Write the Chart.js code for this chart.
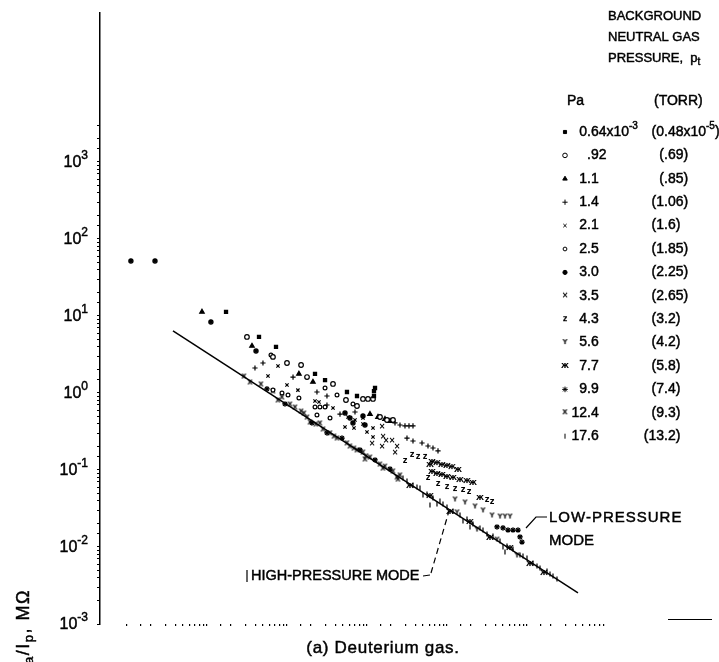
<!DOCTYPE html>
<html>
<head>
<meta charset="utf-8">
<script src="https://cdn.jsdelivr.net/npm/chart.js@4.4.0/dist/chart.umd.min.js"></script>
<style>
  html, body { margin: 0; padding: 0; background: #fff; }
  #wrap { width: 719px; height: 662px; }
</style>
</head>
<body>
<div id="wrap"><canvas id="myChart"></canvas></div>
<script>
// Background neutral gas pressure for every series
const pressurePa = ["0.64x10^-3", ".92", "1.1", "1.4", "2.1", "2.5", "3.0", "3.5", "4.3", "5.6", "7.7", "9.9", "12.4", "17.6"];
const pressureTorr = ["(0.48x10^-5)", "(.69)", "(.85)", "(1.06)", "(1.6)", "(1.85)", "(2.25)", "(2.65)", "(3.2)", "(4.2)", "(5.8)", "(7.4)", "(9.3)", "(13.2)"];

// y axis decades that carry a label (10^k, MOhm)
const yDecades = [-3, -2, -1, 0, 1, 2, 3];

// measured points [x, Va/Ip in MOhm], one array per pressure
const p064 = [[17.3, 11.3], [44.7, 5.34], [72.9, 3.96], [224, 1.77], [299, 1.47], [562, 1.03], [750, 0.914], [1223, 1.06], [1223, 0.914], [1260, 1.16]];
const p092 = [[31.6, 5.34], [66.8, 2.94], [100, 2.45], [150, 2.31], [178, 1.61], [376, 1.31], [546, 0.811], [750, 0.678], [891, 0.836], [1029, 0.836], [1189, 0.836], [1454, 0.488], [1778, 0.446], [2113, 0.446]];
const p11 = [[8.66, 11.3], [36.5, 4.08], [141, 1.77], [211, 1.39], [1090, 0.533], [1372, 0.488], [1679, 0.459], [1939, 0.433]];
const p14 = [[39.8, 2.11], [50.1, 2.45], [119, 1.61], [237, 1.03], [316, 0.914], [316, 0.698], [460, 0.533], [708, 0.566], [2239, 0.408], [2585, 0.384], [2985, 0.373], [3350, 0.373], [3758, 0.373], [3162, 0.26], [3758, 0.238], [4870, 0.224], [5788, 0.205], [6683, 0.193], [7720, 0.177]];
const p21 = [[57.9, 1.66], [77.2, 2.24], [100, 1.27], [137, 1.09], [224, 0.787], [251, 0.764], [376, 0.638], [579, 0.488], [708, 0.446], [891, 0.473], [531, 0.362], [688, 0.351], [891, 0.396], [1189, 0.351], [1000, 0.312], [1189, 0.268]];
const p25 = [[63.1, 3.11], [66.8, 1.09], [86.6, 1.0], [103, 0.942], [141, 0.861], [299, 1.16], [422, 0.942], [668, 0.72], [224, 0.658], [258, 0.658], [299, 0.658], [237, 0.518], [345, 0.473]];
const p30 = [[1.12, 51.8], [2.24, 51.8], [11.2, 8.36], [41.0, 3.51], [531, 0.55], [613, 0.473], [668, 0.408], [891, 0.503], [944, 0.384]];
const p35 = [[1540, 0.362], [2054, 0.238], [2371, 0.199], [1155, 0.218], [1540, 0.199], [2239, 0.166], [1585, 0.268], [1728, 0.238]];
const p43 = [[2985, 0.131], [3652, 0.157], [4340, 0.148], [5309, 0.148], [5788, 0.0787], [7720, 0.0658], [10000, 0.0601], [12589, 0.0566], [15850, 0.055], [18836, 0.0518], [31623, 0.0408], [36517, 0.0384]];
const p56 = [[12589, 0.0408], [16788, 0.0373], [22387, 0.0331], [28184, 0.0294], [36517, 0.0253], [45973, 0.0245], [53088, 0.0245], [61310, 0.0245],
  [13335, 0.0277], [23714, 0.0166], [42170, 0.0123], [74989, 0.00764]];
const p77 = [[6494, 0.127], [7499, 0.123], [8660, 0.116], [10000, 0.113], [11548, 0.109], [13725, 0.1], [6130, 0.116], [6494, 0.0942], [7499, 0.0887], [8660, 0.0861], [10000, 0.0811], [11885, 0.0787], [14540, 0.0741], [17783, 0.0719], [21135, 0.0678], [25850, 0.0433],
  [3447, 0.0619], [6130, 0.0459], [10900, 0.0285], [19390, 0.0211], [34470, 0.0131], [61310, 0.0097], [109000, 0.00601], [163100, 0.00459]];
const p99 = [[42170, 0.0182], [50119, 0.0177], [57876, 0.0166], [66834, 0.0166], [77179, 0.0166], [86596, 0.0116], [81752, 0.0135],
  [56.2, 1.13], [94.4, 0.72], [205, 0.408], [316, 0.303], [487, 0.26], [818, 0.182], [1260, 0.135], [1939, 0.103]];
const p124 = [[29.0, 1.61], [47.3, 1.27], [66.8, 1.03], [86.6, 0.861], [109, 0.698], [126, 0.638], [150, 0.566], [178, 0.473], [230, 0.384], [282, 0.331], [345, 0.294], [422, 0.253], [562, 0.218], [688, 0.187], [750, 0.177], [891, 0.166], [1090, 0.143], [1454, 0.116], [1679, 0.109], [2113, 0.0942], [2585, 0.0836], [194, 0.408], [944, 0.135], [2441, 0.0741],
  [34.5, 1.35], [77.2, 0.787], [163, 0.533], [258, 0.396], [387, 0.268], [613, 0.199], [972, 0.148], [1585, 0.103], [2371, 0.0787]];
const p176 = [[3162, 0.0719], [3758, 0.0638], [4597, 0.0584], [5623, 0.0488], [6683, 0.0433], [8171, 0.0396], [10000, 0.0331], [11885, 0.0294], [14540, 0.0261], [17783, 0.0231], [21135, 0.0199], [25850, 0.0177], [31623, 0.0148], [37584, 0.0139], [45973, 0.012], [56234, 0.0103], [66834, 0.00942], [81752, 0.00787], [100000, 0.0072], [118850, 0.0062], [145400, 0.00533], [177828, 0.00488], [211349, 0.0042], [237100, 0.00384], [6130, 0.0351], [19390, 0.0182], [53088, 0.00861],
  [2818, 0.0787], [4217, 0.0601], [5012, 0.0473], [7499, 0.0362], [8913, 0.0362], [15850, 0.0218], [28184, 0.0166], [50119, 0.01], [89125, 0.00764], [133352, 0.00567], [193900, 0.00446]];

// high-pressure mode line, end points
const fitLine = [[3.76, 6.39], [434000, 0.00253]];

const seriesData = [p064, p092, p11, p14, p21, p25, p30, p35, p43, p56, p77, p99, p124, p176];

const FONT = "\"Liberation Sans\", Arial, sans-serif";

function glyph(ch, px)
{
  const c = document.createElement("canvas");
  c.width = px + 2;
  c.height = px + 2;
  const g = c.getContext("2d");
  g.fillStyle = "#000";
  g.font = "bold " + px + "px \"DejaVu Sans\", sans-serif";
  g.textAlign = "center";
  g.textBaseline = "middle";
  g.fillText(ch, c.width / 2, c.height / 2);
  return c;
}

const markerStyles = [
  {pointStyle: "rect", radius: 2.2, fill: "#000"},
  {pointStyle: "circle", radius: 2.3, fill: "#fff"},
  {pointStyle: "triangle", radius: 2.6, fill: "#000"},
  {pointStyle: "cross", radius: 2.6, fill: "#000"},
  {pointStyle: "crossRot", radius: 2.3, fill: "#000"},
  {pointStyle: "circle", radius: 1.9, fill: "#fff"},
  {pointStyle: "circle", radius: 2.1, fill: "#000"},
  {pointStyle: glyph("\u00d7", 8), radius: 3, fill: "#000"},
  {pointStyle: glyph("z", 8), radius: 3, fill: "#000"},
  {pointStyle: glyph("Y", 7), radius: 3, fill: "#000"},
  {pointStyle: glyph("\u0436", 8), radius: 3, fill: "#000"},
  {pointStyle: "star", radius: 2.8, fill: "#000"},
  {pointStyle: glyph("X", 7), radius: 3, fill: "#000"},
  {pointStyle: "line", radius: 2.5, fill: "#000", rotation: 90},
];

// draw text pieces left to right; a small stroke thickens the print
function drawParts(ctx, parts, x, y, spacing)
{
  ctx.textAlign = "left";
  ctx.textBaseline = "middle";
  ctx.letterSpacing = (spacing || 0) + "px";
  ctx.lineWidth = 0.45;
  let cx = x;
  parts.forEach(p => {
    ctx.font = p.size + "px " + FONT;
    ctx.fillText(p.t, cx, y + p.dy);
    ctx.strokeText(p.t, cx, y + p.dy);
    cx += ctx.measureText(p.t).width;
  });
  ctx.letterSpacing = "0px";
  return cx - x;
}

function partsWidth(ctx, parts, spacing)
{
  ctx.letterSpacing = (spacing || 0) + "px";
  let w = 0;
  parts.forEach(p => {
    ctx.font = p.size + "px " + FONT;
    w += ctx.measureText(p.t).width;
  });
  ctx.letterSpacing = "0px";
  return w;
}

function text(ctx, s, x, y, size, spacing, align)
{
  const parts = [{t: s, size: size, dy: 0}];
  let x0 = x;
  if (align === "center")
    x0 = x - partsWidth(ctx, parts, spacing) / 2;
  return drawParts(ctx, parts, x0, y, spacing);
}

function richParts(s, size, supSize)
{
  const bits = s.split(/\^(-?\d+)/);
  return bits.map((t, i) => ({t: t, size: i % 2 ? supSize : size, dy: i % 2 ? -6 : 0}));
}

function drawDecimal(ctx, s, decX, y)
{
  const dot = s.indexOf(".");
  const lead = partsWidth(ctx, [{t: s.slice(0, dot), size: 14, dy: 0}]);
  drawParts(ctx, richParts(s, 14, 10), decX - lead, y);
}

const paperPlugin = {
  id: "paper",
  afterDraw(chart)
  {
    const ctx = chart.ctx;
    const yScale = chart.scales.y;
    ctx.save();
    ctx.fillStyle = "#000";
    ctx.strokeStyle = "#000";

    // y decade labels
    yDecades.forEach(k => {
      const py = yScale.getPixelForValue(Math.pow(10, k));
      const parts = [{t: "10", size: 16, dy: 1}, {t: String(k), size: 12, dy: -6}];
      drawParts(ctx, parts, 88 - partsWidth(ctx, parts), py);
    });

    // y axis title, reading upwards, its start cut by the page edge
    const title = [{t: "V", size: 18, dy: 0}, {t: "a", size: 13, dy: 5}, {t: "/I", size: 18, dy: 0}, {t: "p", size: 13, dy: 5}, {t: ", M\u03a9", size: 18, dy: 0}];
    ctx.save();
    ctx.translate(24, 589);
    ctx.rotate(-Math.PI / 2);
    drawParts(ctx, title, -partsWidth(ctx, title, 1.5), 0, 1.5);
    ctx.restore();

    // legend heading
    text(ctx, "BACKGROUND", 608, 16, 13);
    text(ctx, "NEUTRAL GAS", 608, 37, 13);
    const w = text(ctx, "PRESSURE,  p", 608, 58, 13);
    drawParts(ctx, [{t: "t", size: 10, dy: 4}], 608 + w, 58);
    text(ctx, "Pa", 567, 101, 14);
    text(ctx, "(TORR)", 654, 101, 14);

    // legend rows
    const helpers = Chart.helpers;
    pressurePa.forEach((label, i) => {
      const ry = 132 + i * 23.4;
      const m = markerStyles[i];
      ctx.fillStyle = m.fill;
      ctx.lineWidth = 1;
      if (helpers && helpers.drawPoint)
        helpers.drawPoint(ctx, {pointStyle: m.pointStyle, radius: m.radius, rotation: m.rotation || 0, borderWidth: 1}, 565, ry);
      ctx.fillStyle = "#000";
      drawDecimal(ctx, label, 587, ry);
      drawDecimal(ctx, pressureTorr[i], 664, ry);
    });

    // mode annotations
    text(ctx, "LOW-PRESSURE", 549, 518, 15, 1);
    text(ctx, "MODE", 549, 541, 15);
    text(ctx, "HIGH-PRESSURE MODE", 251, 576, 14.5);
    ctx.lineWidth = 1.2;
    ctx.beginPath();
    ctx.moveTo(547, 517);
    ctx.lineTo(536, 517);
    ctx.lineTo(526, 528);
    ctx.moveTo(247, 570);
    ctx.lineTo(247, 582);
    ctx.moveTo(423, 576);
    ctx.lineTo(430, 575);
    ctx.stroke();
    ctx.setLineDash([6, 4]);
    ctx.beginPath();
    ctx.moveTo(431, 573);
    ctx.lineTo(449, 511);
    ctx.stroke();
    ctx.setLineDash([]);

    // stray axis stub at the lower right
    ctx.lineWidth = 1;
    ctx.beginPath();
    ctx.moveTo(668, 619.5);
    ctx.lineTo(712, 619.5);
    ctx.stroke();

    // caption
    text(ctx, "(a) Deuterium gas.", 383, 648, 17, 0.7, "center");
    ctx.restore();
  },
};

const datasets = seriesData.map((pts, i) => ({
  label: pressurePa[i] + " Pa",
  data: pts,
  pointStyle: markerStyles[i].pointStyle,
  pointRadius: markerStyles[i].radius,
  pointRotation: markerStyles[i].rotation || 0,
  pointBackgroundColor: markerStyles[i].fill,
  pointBorderColor: "#000",
  pointBorderWidth: 1.2,
  showLine: false,
}));

datasets.push({
  label: "High-pressure mode",
  data: fitLine,
  showLine: true,
  borderColor: "#000",
  borderWidth: 1.5,
  pointRadius: 0,
});

new Chart(document.getElementById("myChart"), {
  type: "scatter",
  data: {datasets: datasets},
  options: {
    responsive: true,
    maintainAspectRatio: false,
    animation: false,
    devicePixelRatio: 1,
    layout: {padding: {top: 13, right: 32, bottom: 0, left: 0}},
    plugins: {
      legend: {display: false},
      tooltip: {enabled: false},
    },
    scales: {
      x: {
        type: "logarithmic",
        min: 0.46,
        max: 1e7,
        border: {display: false},
        grid: {drawOnChartArea: false, drawTicks: true, tickLength: 2, color: "#000", lineWidth: 1.2},
        ticks: {display: false},
        afterBuildTicks: scale => { scale.ticks = scale.ticks.filter(t => t.value >= 1 && t.value < 1e6); },
        afterFit: scale => { scale.height = 38; },
      },
      y: {
        type: "logarithmic",
        min: 0.001,
        max: 86000,
        border: {display: true, color: "#000", width: 1.5},
        grid: {drawOnChartArea: false, drawTicks: true, tickLength: 3, color: "#000", lineWidth: 1},
        ticks: {display: false},
        afterBuildTicks: scale => { scale.ticks = scale.ticks.filter(t => t.value <= 3000); },
        afterFit: scale => { scale.width = 100; },
      },
    },
  },
  plugins: [paperPlugin],
});
</script>
</body>
</html>
